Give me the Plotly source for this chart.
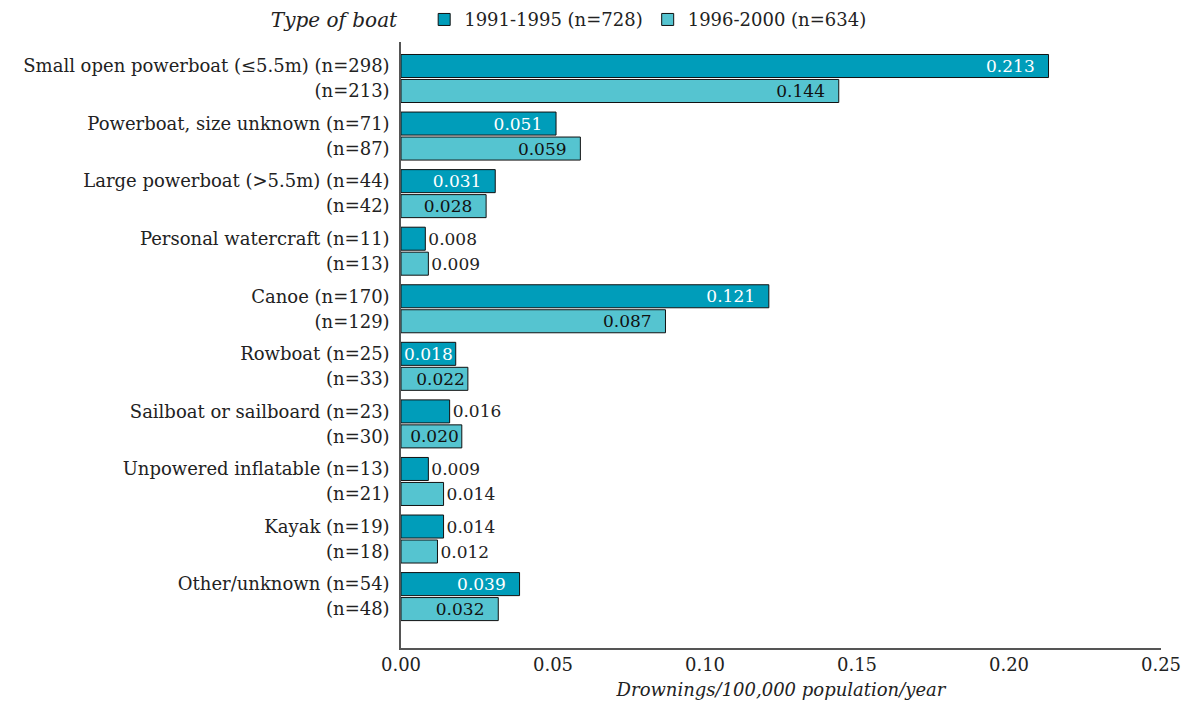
import numpy as np
import plotly.graph_objects as go

boats = ["Small open powerboat (≤5.5m)", "Powerboat, size unknown", "Large powerboat (>5.5m)",
         "Personal watercraft", "Canoe", "Rowboat", "Sailboat or sailboard",
         "Unpowered inflatable", "Kayak", "Other/unknown"]
n_9195 = [298, 71, 44, 11, 170, 25, 23, 13, 19, 54]
n_9600 = [213, 87, 42, 13, 129, 33, 30, 21, 18, 48]
rate_9195 = [0.213, 0.051, 0.031, 0.008, 0.121, 0.018, 0.016, 0.009, 0.014, 0.039]
rate_9600 = [0.144, 0.059, 0.028, 0.009, 0.087, 0.022, 0.020, 0.014, 0.012, 0.032]

x_ticks = [0.0, 0.05, 0.10, 0.15, 0.20, 0.25]

# group positions: second bar sits a bit below the first, groups spaced by 1
idx = np.arange(len(boats))
y1 = idx * 1.0
y2 = idx * 1.0 + 0.434

inside_min = 0.017
dark = "#009dba"
light = "#55c4d0"
font = "DejaVu Serif, serif"

def positions(vals):
    return ["inside" if v >= inside_min else "outside" for v in vals]

def labels(vals):
    # a little breathing room at the end of the longer bars
    return [f"{v:.3f}\u00a0\u00a0" if v >= 0.025 else f"{v:.3f}" for v in vals]

fig = go.Figure()
fig.add_trace(go.Bar(
    name="1991-1995 (n=728)", x=rate_9195, y=y1, orientation="h", width=0.40,
    marker=dict(color=dark, line=dict(color="#111111", width=1)),
    text=labels(rate_9195), textposition=positions(rate_9195),
    insidetextanchor="end", constraintext="none",
    insidetextfont=dict(color="white", size=17, family=font),
    outsidetextfont=dict(color="#222222", size=17, family=font),
    cliponaxis=False,
))
fig.add_trace(go.Bar(
    name="1996-2000 (n=634)", x=rate_9600, y=y2, orientation="h", width=0.40,
    marker=dict(color=light, line=dict(color="#111111", width=1)),
    text=labels(rate_9600), textposition=positions(rate_9600),
    insidetextanchor="end", constraintext="none",
    insidetextfont=dict(color="#111111", size=17, family=font),
    outsidetextfont=dict(color="#222222", size=17, family=font),
    cliponaxis=False,
))

tickvals = list(y1) + list(y2)
ticktext = [f"{b} (n={n})" for b, n in zip(boats, n_9195)] + [f"(n={n})" for n in n_9600]

fig.update_layout(
    width=1175, height=692,
    margin=dict(l=393, r=22, t=34, b=52),
    paper_bgcolor="white", plot_bgcolor="white",
    font=dict(family=font, size=18, color="#222222"),
    barmode="overlay",
    showlegend=True,
    legend=dict(
        orientation="h", xref="container", yref="container",
        x=0.222, y=0.983, xanchor="left", yanchor="middle",
        title=dict(text="<i>Type of boat</i>   ", side="left", font=dict(size=20)),
        font=dict(size=18), itemwidth=30, traceorder="normal",
    ),
    xaxis=dict(
        range=[0, 0.25], tickvals=x_ticks, tickformat=".2f", automargin=False,
        showgrid=False, zeroline=False, showline=True, linecolor="#555555", linewidth=1.5,
        ticks="", tickfont=dict(size=18),
        title=dict(text="<i>Drownings/100,000 population/year</i>", font=dict(size=18), standoff=12),
    ),
    yaxis=dict(
        range=[10.11, -0.417], tickvals=tickvals, ticktext=ticktext, automargin=False,
        showgrid=False, zeroline=False, showline=True, linecolor="#555555", linewidth=1.5,
        ticks="", ticklabelstandoff=6, tickfont=dict(size=18),
    ),
)

fig.write_html("out.html")
